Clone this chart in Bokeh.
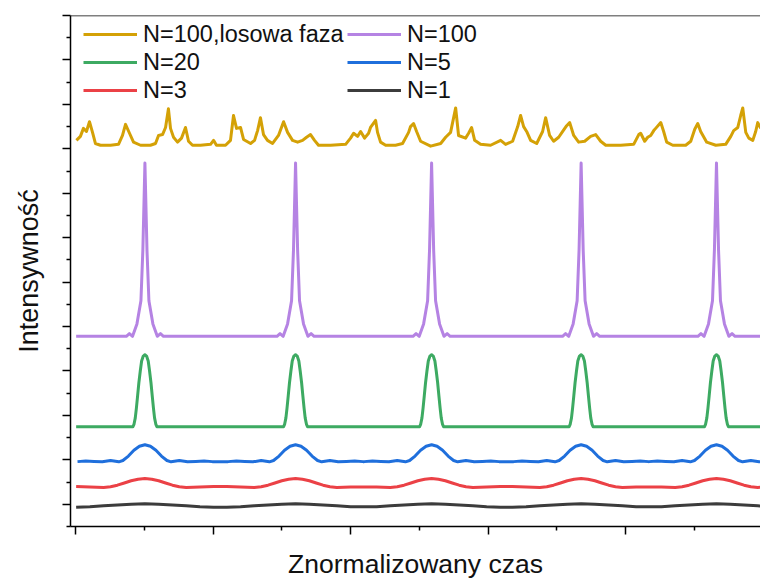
from bokeh.plotting import figure
from bokeh.models import Legend, LegendItem, FixedTicker, Span, CustomJSTickFormatter
from bokeh.embed import file_html
from bokeh.resources import INLINE

# ---------------- data ----------------
# pulse centres (normalised time units; one major tick = 1 unit)
pulse_centers = [0.505, 1.600, 2.589, 3.676, 4.660]

# single-pulse profiles: offset from the pulse centre -> intensity above baseline
n100_dx = [-0.75, -0.5, -0.135, -0.113, -0.09, -0.058, -0.029, -0.015, 0.0, 0.015, 0.029, 0.058, 0.09, 0.113, 0.135, 0.5, 0.75]
n100_i = [0.0, 0.0, 0.0, 0.06, 0.0, 0.28, 0.80, 1.94, 3.90, 1.94, 0.80, 0.28, 0.0, 0.06, 0.0, 0.0, 0.0]

n20_dx = [-0.75, -0.5, -0.087, -0.079, -0.070, -0.062, -0.053, -0.044, -0.034, -0.024, -0.012, 0.0,
          0.012, 0.024, 0.034, 0.044, 0.053, 0.062, 0.070, 0.079, 0.087, 0.5, 0.75]
n20_i = [0.0, 0.0, 0.0, 0.06, 0.20, 0.42, 0.70, 0.99, 1.25, 1.48, 1.59, 1.62,
         1.59, 1.48, 1.25, 0.99, 0.70, 0.42, 0.20, 0.06, 0.0, 0.0, 0.0]

n5_dx = [-0.75, -0.6, -0.49, -0.43, -0.37, -0.31, -0.25, -0.19, -0.16, -0.12, -0.08, -0.04, 0.0,
         0.04, 0.08, 0.12, 0.16, 0.19, 0.25, 0.31, 0.37, 0.43, 0.49, 0.6, 0.75]
n5_i = [0.005, 0.005, 0.005, 0.02, 0.01, 0.0, 0.03, 0.0, 0.03, 0.13, 0.26, 0.35, 0.385,
        0.35, 0.26, 0.13, 0.03, 0.0, 0.03, 0.0, 0.01, 0.02, 0.005, 0.005, 0.005]

n3_dx = [-0.75, -0.6, -0.5, -0.4, -0.3, -0.25, -0.2, -0.15, -0.1, -0.05, 0.0,
         0.05, 0.1, 0.15, 0.2, 0.25, 0.3, 0.4, 0.5, 0.6, 0.75]
n3_i = [0.02, 0.02, 0.02, 0.01, 0.0, 0.015, 0.05, 0.10, 0.15, 0.185, 0.20,
        0.185, 0.15, 0.10, 0.05, 0.015, 0.0, 0.01, 0.02, 0.02, 0.02]

n1_dx = [-0.75, -0.6, -0.5, -0.4, -0.3, -0.2, -0.1, 0.0, 0.1, 0.2, 0.3, 0.4, 0.5, 0.6, 0.75]
n1_i = [0.0, 0.0, 0.003, 0.015, 0.035, 0.055, 0.072, 0.08, 0.072, 0.055, 0.035, 0.015, 0.003, 0.0, 0.0]

# N=100 with random phase: read point by point
rand_x = [0.007, 0.036, 0.058, 0.080, 0.102, 0.124, 0.145, 0.182, 0.255, 0.313, 0.342, 0.364, 0.393, 0.422,
          0.473, 0.545, 0.582, 0.604, 0.633, 0.655, 0.676, 0.691, 0.713, 0.742, 0.771, 0.800, 0.822, 0.851,
          0.909, 0.982, 1.004, 1.025, 1.091, 1.127, 1.149, 1.171, 1.200, 1.222, 1.273, 1.302, 1.324, 1.345,
          1.367, 1.396, 1.433, 1.476, 1.513, 1.542, 1.578, 1.615, 1.651, 1.680, 1.709, 1.738, 1.767, 1.855,
          1.964, 2.000, 2.022, 2.051, 2.073, 2.102, 2.131, 2.145, 2.182, 2.196, 2.218, 2.255, 2.327, 2.378,
          2.422, 2.436, 2.458, 2.480, 2.509, 2.582, 2.655, 2.691, 2.727, 2.764, 2.785, 2.836, 2.858, 2.880,
          2.902, 2.945, 3.018, 3.091, 3.127, 3.178, 3.215, 3.236, 3.258, 3.280, 3.309, 3.353, 3.396, 3.418,
          3.447, 3.476, 3.513, 3.542, 3.571, 3.593, 3.622, 3.658, 3.702, 3.745, 3.782, 3.818, 3.855, 3.964,
          4.058, 4.095, 4.109, 4.138, 4.160, 4.182, 4.204, 4.218, 4.255, 4.276, 4.298, 4.342, 4.436, 4.473,
          4.502, 4.524, 4.545, 4.589, 4.655, 4.727, 4.764, 4.785, 4.815, 4.836, 4.851, 4.873, 4.895, 4.924,
          4.945, 4.960, 4.982]
rand_i = [0.11, 0.20, 0.38, 0.31, 0.53, 0.29, 0.04, 0.0, 0.0, 0.02, 0.22, 0.47, 0.27, 0.07,
          0.0, 0.0, 0.04, 0.22, 0.24, 0.40, 0.82, 0.38, 0.18, 0.07, 0.16, 0.40, 0.09, 0.0,
          0.0, 0.02, 0.11, 0.0, 0.0, 0.11, 0.67, 0.38, 0.40, 0.13, 0.04, 0.11, 0.33, 0.62,
          0.24, 0.11, 0.04, 0.22, 0.53, 0.29, 0.11, 0.07, 0.11, 0.18, 0.24, 0.11, 0.0, 0.0,
          0.02, 0.16, 0.27, 0.20, 0.31, 0.16, 0.27, 0.40, 0.56, 0.29, 0.07, 0.0, 0.0, 0.04,
          0.29, 0.42, 0.49, 0.31, 0.09, -0.02, 0.04, 0.18, 0.29, 0.84, 0.22, 0.16, 0.27, 0.40,
          0.11, 0.02, 0.0, 0.11, 0.02, 0.09, 0.42, 0.67, 0.42, 0.31, 0.11, 0.04, 0.31, 0.62,
          0.22, 0.09, 0.18, 0.31, 0.44, 0.51, 0.22, 0.07, 0.09, 0.20, 0.24, 0.09, 0.0, 0.0,
          0.02, 0.24, 0.27, 0.09, 0.18, 0.22, 0.33, 0.38, 0.51, 0.31, 0.07, 0.0, 0.0, 0.09,
          0.36, 0.49, 0.31, 0.07, 0.0, 0.02, 0.20, 0.33, 0.40, 0.67, 0.84, 0.29, 0.16, 0.11,
          0.31, 0.51, 0.38]

# vertical offsets of the stacked traces
offsets = {"N=100,losowa faza": 8.08, "N=100": 3.78, "N=20": 1.745, "N=5": 0.955, "N=3": 0.38, "N=1": -0.07}

colors = {"N=100,losowa faza": "#D4A106", "N=100": "#B583E3", "N=20": "#3DAA62",
          "N=5": "#1F6FDC", "N=3": "#EB4146", "N=1": "#3C3C3C"}

X_START, X_END = -0.036, 4.98
Y_START, Y_END = -0.5, 11.0


def pulse_train(dx, inten, offset):
    mids = [(a + b) / 2 for a, b in zip(pulse_centers[:-1], pulse_centers[1:])]
    bounds = [0.0] + mids + [X_END + 0.5]
    xs, ys = [], []
    for k, c in enumerate(pulse_centers):
        lo, hi = bounds[k], bounds[k + 1]
        for d, v in zip(dx, inten):
            x = c + d
            if lo <= x < hi:
                xs.append(x)
                ys.append(v + offset)
    return xs, ys


series = {
    "N=100,losowa faza": (rand_x, [v + offsets["N=100,losowa faza"] for v in rand_i]),
    "N=100": pulse_train(n100_dx, n100_i, offsets["N=100"]),
    "N=20": pulse_train(n20_dx, n20_i, offsets["N=20"]),
    "N=5": pulse_train(n5_dx, n5_i, offsets["N=5"]),
    "N=3": pulse_train(n3_dx, n3_i, offsets["N=3"]),
    "N=1": pulse_train(n1_dx, n1_i, offsets["N=1"]),
}

FONT = "Liberation Sans"

p = figure(width=760, height=581, output_backend="svg", toolbar_location=None,
           x_range=(X_START, X_END), y_range=(Y_START, Y_END),
           min_border_left=70, min_border_right=0, min_border_top=15, min_border_bottom=50)
p.outline_line_color = None
p.grid.visible = False
p.background_fill_color = "white"
p.border_fill_color = "white"

renderers = {}
for name, (xs, ys) in series.items():
    renderers[name] = p.line(xs, ys, line_color=colors[name], line_width=3, line_join="round")

# axes
blank = CustomJSTickFormatter(code="return ''")
p.xaxis.ticker = FixedTicker(ticks=[0, 1, 2, 3, 4, 5], minor_ticks=[0.5, 1.5, 2.5, 3.5, 4.5])
p.yaxis.ticker = FixedTicker(ticks=list(range(0, 12)), minor_ticks=[k + 0.5 for k in range(-1, 11)])
for ax in (p.xaxis, p.yaxis):
    ax.formatter = blank
    ax.major_label_standoff = 0
    ax.major_tick_in = 0
    ax.major_tick_out = 8
    ax.minor_tick_in = 0
    ax.minor_tick_out = 4
    ax.axis_line_width = 1.5
    ax.major_tick_line_width = 1.5
    ax.minor_tick_line_width = 1.5
    ax.axis_line_color = "black"
    ax.major_tick_line_color = "black"
    ax.minor_tick_line_color = "black"
    ax.axis_label_text_font = FONT
    ax.axis_label_text_font_style = "normal"
    ax.axis_label_text_color = "#111111"

p.xaxis.axis_label = "Znormalizowany czas"
p.yaxis.axis_label = "Intensywność"
p.xaxis.axis_label_text_font_size = "26.5px"
p.yaxis.axis_label_text_font_size = "27px"
p.xaxis.axis_label_standoff = 14
p.yaxis.axis_label_standoff = 19

p.add_layout(Span(location=Y_END, dimension="width", line_color="black", line_width=1.5))

legend_order = ["N=100,losowa faza", "N=100", "N=20", "N=5", "N=3", "N=1"]
legend = Legend(items=[LegendItem(label=n, renderers=[renderers[n]]) for n in legend_order],
                location=(13, 422), orientation="horizontal", ncols=2,
                background_fill_alpha=0, border_line_color=None,
                label_text_font=FONT, label_text_font_size="23.5px", label_text_color="#111111",
                glyph_width=54, glyph_height=28, label_height=28, label_width=204,
                label_standoff=6, spacing=0, padding=0, margin=0)
p.add_layout(legend)

html = file_html(p, INLINE)
open("out.html", "w").write(html)
